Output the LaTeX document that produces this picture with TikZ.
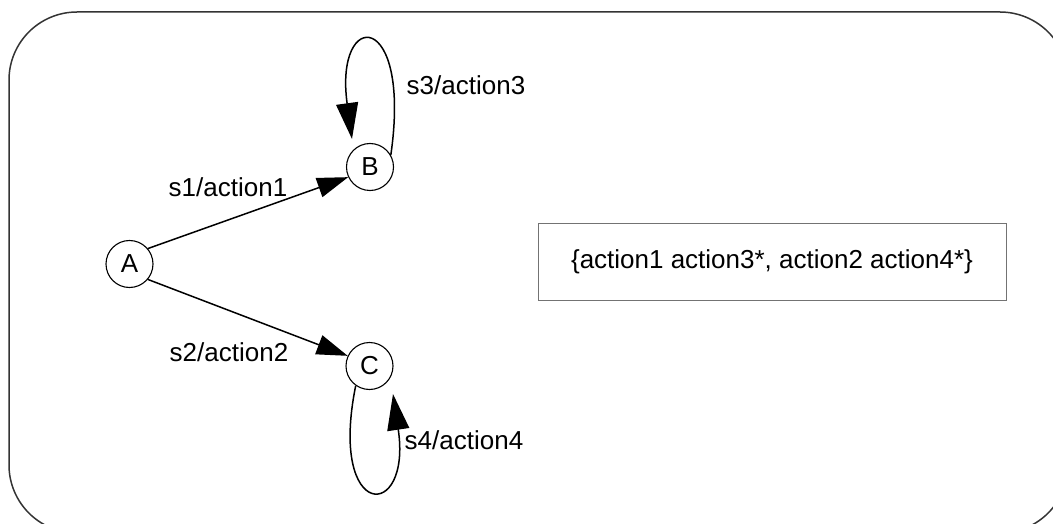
\documentclass[tikz,border=0pt]{standalone}
\usepackage{fontspec}
\setmainfont{Liberation Sans}
\usetikzlibrary{arrows.meta}
\tikzset{
  state/.style={draw, circle, line width=1.1pt, minimum size=47pt, inner sep=0pt, font=\fontsize{26}{30}\selectfont},
  lbl/.style={font=\fontsize{26}{30}\selectfont, inner sep=0pt},
  conn/.style={line width=1.5pt, -{Triangle[length=31pt,width=20pt]}},
  loopconn/.style={line width=1.5pt, -{Triangle[length=36pt,width=22pt]}},
}
\begin{document}
\begin{tikzpicture}[x=1pt,y=-1pt]
\useasboundingbox (0,0) rectangle (1053,524);
\begin{scope}
\clip (0,0) rectangle (1053,524);
\draw[line width=1.5pt, color=black!80, rounded corners=68pt] (9,12) rectangle (1068,533);
\end{scope}
\node[state] (A) at (129.5,264) {A};
\node[state] (B) at (370,167) {B};
\node[state] (C) at (369.5,366) {C};
\draw[conn] (A.40) -- (B.205);
\draw[conn] (A.-40) -- (C.155);
\coordinate (Btip) at (352,139);
\coordinate (Ctip) at (393,394);
\draw[loopconn] (B.30) .. controls (412,8) and (334,8) .. (Btip);
\draw[loopconn] (C.235) .. controls (328,522) and (412,522) .. (Ctip);
\node[lbl] (l1) at (228,187) {s1/action1};
\node[lbl] (l2) at (229,352) {s2/action2};
\node[lbl] (l3) at (466,85) {s3/action3};
\node[lbl] (l4) at (464,440) {s4/action4};
\node[draw=black!55, line width=1pt, minimum width=468pt, minimum height=77pt, font=\fontsize{26}{30}\selectfont, inner sep=0pt] (box) at (772,261.5) {\{action1 action3*, action2 action4*\}};
\end{tikzpicture}
\end{document}
